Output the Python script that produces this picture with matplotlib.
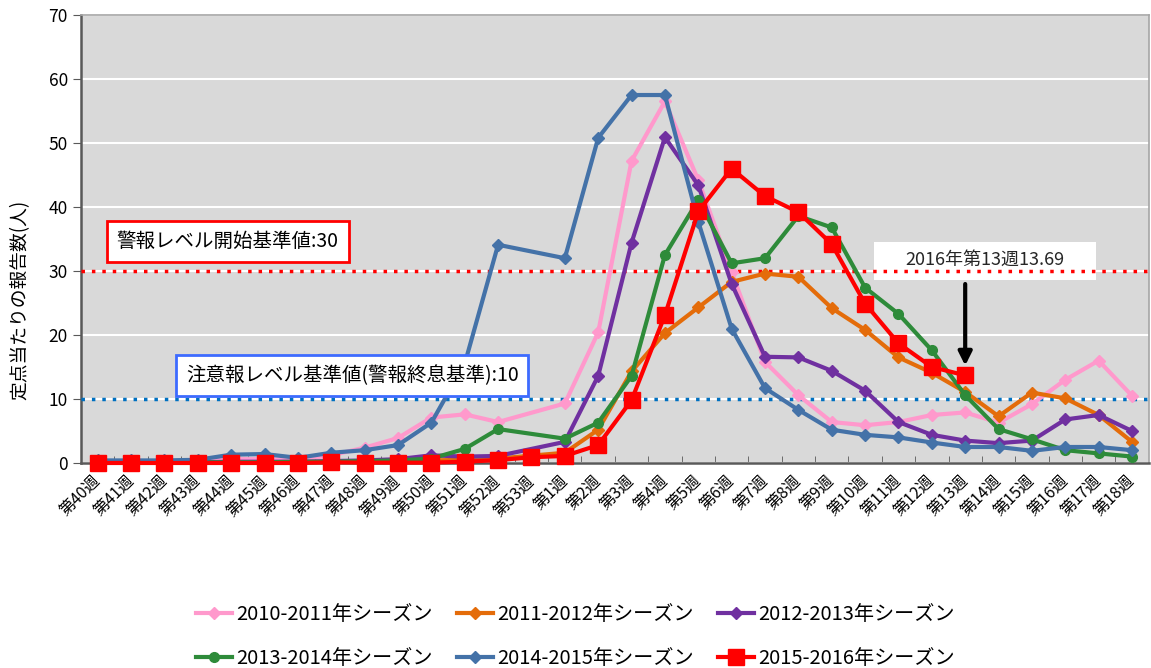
import numpy as np
import matplotlib
matplotlib.use("Agg")
import matplotlib.pyplot as plt
from matplotlib.patches import Rectangle

plt.rcParams['font.family'] = ['Noto Sans CJK JP', 'DejaVu Sans']

nan = np.nan

weeks = ['第40週', '第41週', '第42週', '第43週', '第44週', '第45週', '第46週',
         '第47週', '第48週', '第49週', '第50週', '第51週', '第52週', '第53週',
         '第1週', '第2週', '第3週', '第4週', '第5週', '第6週', '第7週', '第8週',
         '第9週', '第10週', '第11週', '第12週', '第13週', '第14週', '第15週',
         '第16週', '第17週', '第18週']

s2010 = [0.3, 0.3, 0.3, 0.3, 0.6, 0.6, 0.5, 1.2, 2.4, 3.9, 7.1, 7.6, 6.4, nan,
         9.3, 20.4, 47.2, 56.5, 44.2, 29.8, 15.8, 10.6, 6.4, 5.9, 6.4, 7.5, 7.9,
         6.3, 9.2, 13.0, 16.0, 10.5]
s2011 = [0.1, 0.1, 0.1, 0.1, 0.1, 0.1, 0.1, 0.2, 0.2, 0.3, 0.4, 0.5, 0.7, nan,
         1.6, 5.2, 14.3, 20.3, 24.3, 28.3, 29.6, 29.1, 24.2, 20.8, 16.5, 14.1,
         11.1, 7.3, 11.0, 10.1, 7.5, 3.3]
s2012 = [0.1, 0.1, 0.1, 0.1, 0.2, 0.2, 0.2, 0.3, 0.4, 0.6, 1.2, 1.0, 1.1, nan,
         3.3, 13.6, 34.4, 50.9, 43.4, 28.0, 16.6, 16.5, 14.4, 11.3, 6.4, 4.4,
         3.5, 3.1, 3.5, 6.8, 7.5, 5.0]
s2013 = [0.1, 0.1, 0.1, 0.1, 0.1, 0.1, 0.2, 0.2, 0.3, 0.4, 0.7, 2.2, 5.3, nan,
         3.8, 6.3, 13.6, 32.5, 41.1, 31.2, 32.0, 38.6, 36.8, 27.4, 23.3, 17.6,
         10.6, 5.3, 3.7, 2.0, 1.5, 1.0]
s2014 = [0.4, 0.4, 0.4, 0.5, 1.3, 1.4, 0.8, 1.6, 2.0, 2.8, 6.3, 15.5, 34.1, nan,
         32.0, 50.8, 57.5, 57.5, 37.7, 21.0, 11.7, 8.3, 5.2, 4.4, 4.0, 3.2, 2.5,
         2.5, 1.9, 2.5, 2.5, 2.0]
s2015 = [0.0, 0.0, 0.0, 0.0, 0.0, 0.0, 0.0, 0.1, 0.05, 0.05, 0.05, 0.2, 0.45, 0.9,
         1.1, 2.8, 9.8, 23.1, 39.3, 46.0, 41.7, 39.2, 34.2, 24.9, 18.7, 15.0,
         13.69, nan, nan, nan, nan, nan]

seasons = ['2010-2011年シーズン', '2011-2012年シーズン', '2012-2013年シーズン',
           '2013-2014年シーズン', '2014-2015年シーズン', '2015-2016年シーズン']
alarm_level = 30
caution_level = 10
latest_week = '第13週'
latest_label = '2016年第13週13.69'

styles = [
    dict(color='#ff99cc', marker='D', ms=6, lw=3),
    dict(color='#e46c0a', marker='D', ms=6, lw=3),
    dict(color='#7030a0', marker='D', ms=6, lw=3),
    dict(color='#2e8b3a', marker='o', ms=7, lw=3),
    dict(color='#4472a8', marker='D', ms=6, lw=3),
    dict(color='#ff0000', marker='s', ms=11, lw=3),
]

fig = plt.figure(figsize=(11.51, 6.68), dpi=100)
ax = fig.add_axes([0.0704, 0.3069, 0.9276, 0.6706])
ax.set_facecolor('#d9d9d9')

x = np.arange(len(weeks))
handles = []
for vals, name, st in zip([s2010, s2011, s2012, s2013, s2014, s2015], seasons, styles):
    y = np.array(vals, dtype=float)
    ok = ~np.isnan(y)
    h, = ax.plot(x[ok], y[ok], label=name, color=st['color'], marker=st['marker'],
                 markersize=st['ms'], linewidth=st['lw'], clip_on=False, zorder=4)
    handles.append(h)

ax.axhline(alarm_level, color='#ff0000', linestyle=(0, (1, 2)), linewidth=2.5, zorder=3)
ax.axhline(caution_level, color='#0070c0', linestyle=(0, (1, 2)), linewidth=2.5, zorder=3)

ax.set_xlim(-0.5, len(weeks) - 0.5)
ax.set_ylim(0, 70)
ax.set_yticks(np.arange(0, 71, 10))
ax.yaxis.grid(True, color='white', linewidth=1.5)
ax.set_axisbelow(True)
ax.tick_params(axis='y', direction='out', length=6, labelsize=12.5, colors='#595959',
               labelcolor='black')

ax.set_xticks(x)
ax.set_xticklabels(weeks, rotation=45, ha='right', va='center', rotation_mode='anchor',
                   fontsize=11.5)
ax.tick_params(axis='x', which='major', length=0, pad=11)
ax.set_xticks(np.arange(0.5, len(weeks) - 1, 1), minor=True)
ax.tick_params(axis='x', which='minor', direction='in', length=5, colors='#595959')

for side in ['left', 'bottom']:
    ax.spines[side].set_color('#595959')
    ax.spines[side].set_linewidth(1.8)
for side in ['top', 'right']:
    ax.spines[side].set_color('#a6a6a6')
    ax.spines[side].set_linewidth(1.2)

ax.set_ylabel('定点当たりの報告数(人)', fontsize=13.5)
ax.yaxis.set_label_coords(-0.047, 0.364)

# threshold labels sit above the lines
ax.text(3.9, 34.6, '警報レベル開始基準値:30', fontsize=14, ha='center', va='center',
        zorder=5, bbox=dict(boxstyle='square,pad=0.5', fc='white', ec='#ff0000', lw=2))
ax.text(7.63, 13.7, '注意報レベル基準値(警報終息基準):10', fontsize=14, ha='center',
        va='center', zorder=5,
        bbox=dict(boxstyle='square,pad=0.5', fc='white', ec='#3d6bff', lw=2))

# latest week callout (box under the dotted line)
k = weeks.index(latest_week)
ax.add_patch(Rectangle((23.27, 28.6), 6.65, 5.9, facecolor='white', edgecolor='none',
                       zorder=2))
ax.text(k + 0.6, 31.7, latest_label, fontsize=13, ha='center', va='center',
        color='#262626', zorder=2.5)
ax.annotate('', xy=(k, s2015[k] + 1.1), xytext=(k, 28.4), zorder=6,
            arrowprops=dict(arrowstyle='-|>', color='black', lw=3, mutation_scale=20))

order = [0, 3, 1, 4, 2, 5]
fig.legend([handles[i] for i in order], [seasons[i] for i in order],
           loc='lower center', bbox_to_anchor=(0.5, -0.013), ncol=3, frameon=False,
           fontsize=14.5, handlelength=1.8, handletextpad=0.2, columnspacing=1.2,
           labelspacing=1.1, borderaxespad=0)

fig.savefig('out.png', dpi=100)
